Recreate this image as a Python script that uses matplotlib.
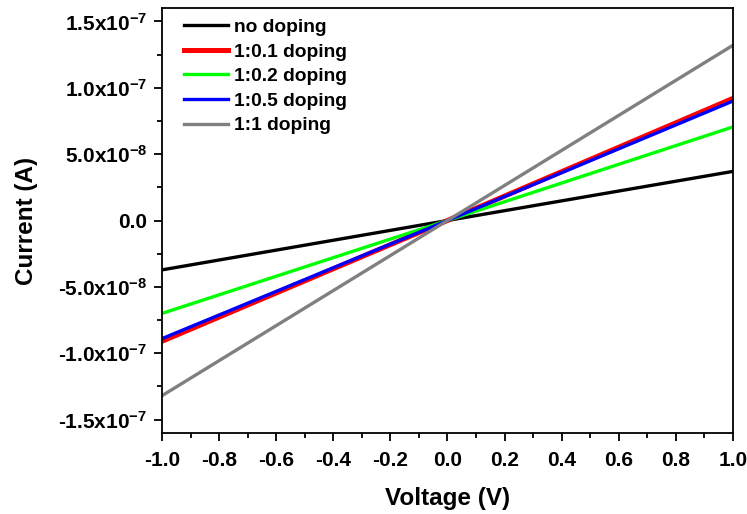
import matplotlib
matplotlib.use("Agg")
import matplotlib.pyplot as plt
from matplotlib.ticker import MultipleLocator, FixedLocator, FixedFormatter

plt.rcParams['font.family'] = ['Liberation Sans', 'DejaVu Sans']
plt.rcParams['font.weight'] = 'bold'
plt.rcParams['mathtext.fontset'] = 'custom'
plt.rcParams['mathtext.rm'] = 'Liberation Sans:bold'
plt.rcParams['mathtext.it'] = 'Liberation Sans:bold'
plt.rcParams['mathtext.bf'] = 'Liberation Sans:bold'

# Voltage sweep (V) and currents (A)
voltage = [-1.0, -0.5, 0.0, 0.5, 1.0]
no_doping = [-3.72e-8, -1.86e-8, 0.0, 1.85e-8, 3.70e-8]
doping_01 = [-9.1e-8, -4.55e-8, 0.0, 4.6e-8, 9.2e-8]
doping_02 = [-7.0e-8, -3.5e-8, 0.0, 3.53e-8, 7.05e-8]
doping_05 = [-8.9e-8, -4.45e-8, 0.0, 4.5e-8, 9.0e-8]
doping_1 = [-1.32e-7, -6.6e-8, 0.0, 6.6e-8, 1.32e-7]

series_labels = ['no doping', '1:0.1 doping', '1:0.2 doping', '1:0.5 doping', '1:1 doping']
series_colors = ['#000000', '#ff0000', '#00ff00', '#0000ff', '#808080']
series_widths = [2.4, 3.6, 2.4, 2.4, 2.4]

x_ticks = [-1.0, -0.8, -0.6, -0.4, -0.2, 0.0, 0.2, 0.4, 0.6, 0.8, 1.0]
y_ticks = [-1.5e-7, -1.0e-7, -5.0e-8, 0.0, 5.0e-8, 1.0e-7, 1.5e-7]
y_tick_labels = [r'-1.5x10$^{-7}$', r'-1.0x10$^{-7}$', r'-5.0x10$^{-8}$', '0.0',
                 r'5.0x10$^{-8}$', r'1.0x10$^{-7}$', r'1.5x10$^{-7}$']

fig = plt.figure(figsize=(7.47, 5.14), dpi=100)
ax = fig.add_axes([0.217, 0.158, 0.764, 0.826])

all_series = [no_doping, doping_01, doping_02, doping_05, doping_1]
for values, label, color, lw in zip(all_series, series_labels, series_colors, series_widths):
    ax.plot(voltage, values, color=color, lw=lw, label=label)

ax.set_xlim(-1.0, 1.0)
ax.set_ylim(-1.6e-7, 1.6e-7)

ax.xaxis.set_major_locator(FixedLocator(x_ticks))
ax.xaxis.set_major_formatter(FixedFormatter(['%.1f' % v for v in x_ticks]))
ax.xaxis.set_minor_locator(MultipleLocator(0.1))
ax.yaxis.set_major_locator(FixedLocator(y_ticks))
ax.yaxis.set_major_formatter(FixedFormatter(y_tick_labels))
ax.yaxis.set_minor_locator(MultipleLocator(2.5e-8))

ax.tick_params(which='both', direction='out', width=1.3, labelsize=15, top=False, right=False)
ax.tick_params(which='major', length=6, pad=5)
ax.tick_params(which='minor', length=3.5)
ax.tick_params(axis='x', pad=7)
for sp in ax.spines.values():
    sp.set_linewidth(1.3)

ax.set_xlabel('Voltage (V)', fontsize=17.5, fontweight='bold', labelpad=12)
ax.set_ylabel('Current (A)', fontsize=17.5, fontweight='bold', labelpad=14)

ax.legend(loc='upper left', bbox_to_anchor=(0.02, 1.0), frameon=False, fontsize=13.8,
          handlelength=2.3, handletextpad=0.3, labelspacing=0.37, borderaxespad=0.15)

fig.savefig('out.png', dpi=100)
